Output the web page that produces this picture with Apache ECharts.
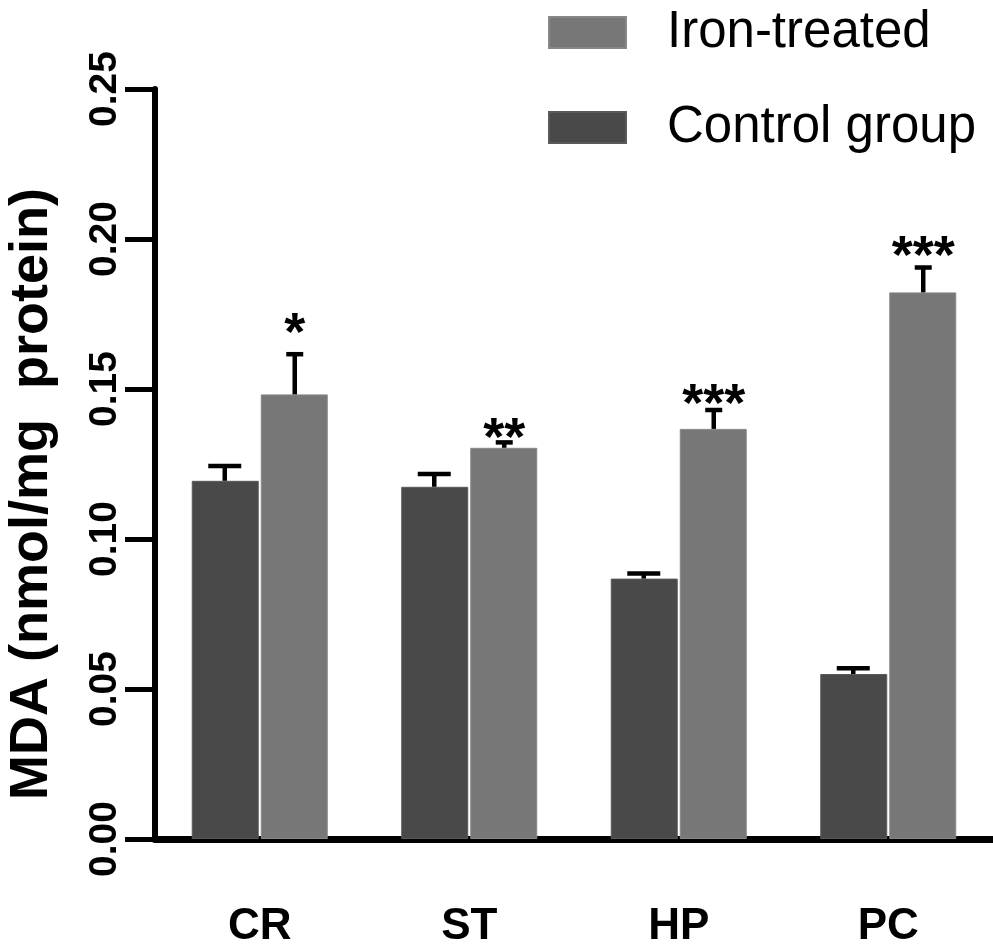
<!DOCTYPE html>
<html>
<head>
<meta charset="utf-8">
<script src="https://cdn.jsdelivr.net/npm/echarts@6/dist/echarts.min.js"></script>
<style>
	html, body { margin: 0; padding: 0; background: #fff; }
	#bar { width: 993px; height: 945px; }
</style>
</head>
<body>
<div id="bar"></div>
<script>
	// data
	const categories = ['CR', 'ST', 'HP', 'PC']
	const controlMean = [0.1194, 0.1174, 0.0868, 0.0550]
	const controlSem = [0.0049, 0.0043, 0.0017, 0.0019]
	const ironMean = [0.1482, 0.1304, 0.1367, 0.1822]
	const ironSem = [0.0134, 0.0018, 0.0063, 0.0083]
	const stars = ['*', '**', '***', '***']
	const starLevel = [0.1723, 0.1373, 0.1487, 0.1980]

	const FONT = '"Liberation Sans", Arial, sans-serif'

	// error bar: stem from the bar top, cap on top (side -1 = left bar, +1 = right bar)
	function errorBars (side, capWidth, withStars) {
		return function (params, api) {
			const i = api.value(0)
			const base = api.coord([i, api.value(1)])
			const top = api.coord([i, api.value(1) + api.value(2)])
			const band = api.size([1, 0])[0]
			const x = base[0] + side * band * 0.167
			const style = { stroke: '#000', lineWidth: 4.5 }
			const children = [
				{ type: 'line', shape: { x1: x, y1: base[1], x2: x, y2: top[1] }, style: style },
				{ type: 'line', shape: { x1: x - capWidth / 2, y1: top[1], x2: x + capWidth / 2, y2: top[1] }, style: style }
			]
			if (withStars) {
				const sp = api.coord([i, starLevel[i]])
				children.push({
					type: 'text',
					x: x,
					y: sp[1] + 13,
					style: {
						text: stars[i],
						fill: '#000',
						font: 'bold 54px ' + FONT,
						align: 'center',
						verticalAlign: 'middle'
					}
				})
			}
			return { type: 'group', children: children }
		}
	}

	const chart = echarts.init(document.getElementById('bar'))
	chart.setOption({
		backgroundColor: '#fff',
		animation: false,
		grid: { left: 155, right: 0, top: 89, bottom: 106, containLabel: false, outerBoundsMode: 'none' },
		legend: {
			orient: 'vertical',
			left: 543,
			top: 2,
			itemWidth: 77,
			itemHeight: 31,
			itemGap: 44,
			icon: 'rect',
			data: ['Iron-treated', 'Control group'],
			textStyle: { fontSize: 51, fontFamily: FONT, color: '#000', padding: [0, 0, 0, 36] }
		},
		xAxis: {
			type: 'category',
			data: categories,
			axisLine: { lineStyle: { color: '#000', width: 7 } },
			axisTick: { alignWithLabel: true, length: 32, lineStyle: { color: '#000', width: 6 } },
			axisLabel: { margin: 66, fontSize: 44, fontWeight: 'bold', fontFamily: FONT, color: '#000' }
		},
		yAxis: {
			type: 'value',
			min: 0,
			max: 0.25,
			interval: 0.05,
			name: 'MDA (nmol/mg  protein)',
			nameLocation: 'middle',
			nameGap: 96,
			nameRotate: 90,
			nameTextStyle: { fontSize: 54, fontWeight: 'bold', fontFamily: FONT, color: '#000', padding: [0, 60, 0, 0] },
			axisLine: { show: true, lineStyle: { color: '#000', width: 6 } },
			axisTick: { show: true, length: 30, lineStyle: { color: '#000', width: 5 } },
			splitLine: { show: false },
			axisLabel: {
				rotate: 90,
				margin: 30,
				fontSize: 39,
				fontWeight: 'bold',
				fontFamily: FONT,
				color: '#000',
				formatter: function (v) { return v.toFixed(2) }
			}
		},
		series: [
			{
				name: 'Control group',
				type: 'bar',
				data: controlMean,
				barWidth: 67,
				barGap: '3%',
				barCategoryGap: '35%',
				itemStyle: { color: '#494949', borderColor: '#5a5a5a', borderWidth: 1 }
			},
			{
				name: 'Iron-treated',
				type: 'bar',
				data: ironMean,
				barWidth: 67,
				itemStyle: { color: '#777777', borderColor: '#888888', borderWidth: 1 }
			},
			{
				name: 'control-sem',
				type: 'custom',
				z: 5,
				renderItem: errorBars(-1, 33, false),
				data: controlMean.map(function (v, i) { return [i, v, controlSem[i]] })
			},
			{
				name: 'iron-sem',
				type: 'custom',
				z: 5,
				renderItem: errorBars(1, 17, true),
				data: ironMean.map(function (v, i) { return [i, v, ironSem[i]] })
			}
		]
	})
</script>
</body>
</html>
